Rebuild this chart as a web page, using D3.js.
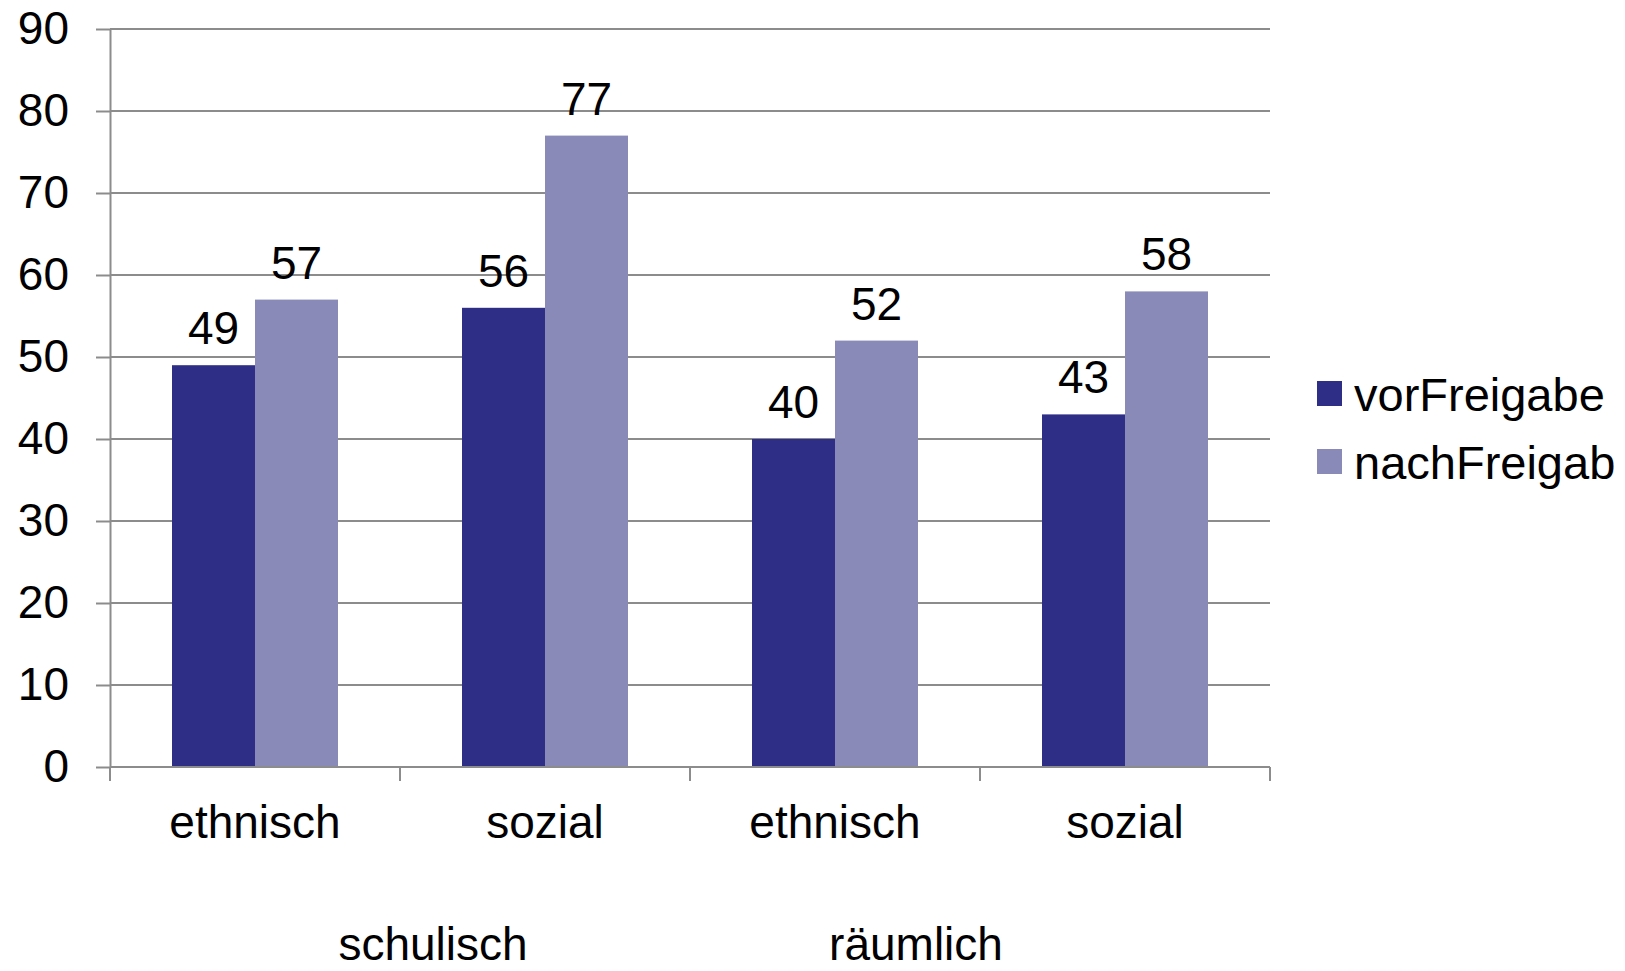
<!DOCTYPE html>
<html>
<head>
<meta charset="utf-8">
<script src="https://cdn.jsdelivr.net/npm/d3@7"></script>
<style>
  html, body { margin: 0; padding: 0; background: #fff; }
  svg { display: block; font-family: "Liberation Sans", Arial, sans-serif; }
</style>
</head>
<body>
<svg id="chart" width="1625" height="971"></svg>
<script>
// Subcategories along the x axis, grouped by kind of segregation
const categories = ["ethnisch", "sozial", "ethnisch", "sozial"];
const groups = ["schulisch", "räumlich"];
const seriesNames = ["vorFreigabe", "nachFreigab"];
const vorFreigabe = [49, 56, 40, 43];
const nachFreigabe = [57, 77, 52, 58];
const yTicks = [0, 10, 20, 30, 40, 50, 60, 70, 80, 90];

const colors = ["#2e2e87", "#8a8ab8"];
const gridColor = "#8c8c8c";
const fontSize = 46;

const svg = d3.select("#chart");
const plot = { left: 110, right: 1270, top: 29, bottom: 767 };

const y = d3.scaleLinear().domain([0, 90]).range([plot.bottom, plot.top]);
const x0 = d3.scaleBand().domain(d3.range(categories.length)).range([plot.left, plot.right]).padding(0);
const x1 = d3.scaleBand().domain(seriesNames).range([0, x0.bandwidth()]).paddingInner(0).paddingOuter(0.747);

const rows = categories.map((c, i) => ({
  i, cat: c,
  values: [
    { key: seriesNames[0], v: vorFreigabe[i] },
    { key: seriesNames[1], v: nachFreigabe[i] }
  ]
}));

// Horizontal gridlines
svg.append("g")
  .selectAll("line")
  .data(yTicks)
  .join("line")
  .attr("x1", plot.left).attr("x2", plot.right)
  .attr("y1", d => y(d)).attr("y2", d => y(d))
  .attr("stroke", gridColor).attr("stroke-width", 2);

// Y axis with outside ticks
const yAxis = svg.append("g")
  .attr("transform", `translate(${plot.left},0)`)
  .call(d3.axisLeft(y).tickValues(yTicks).tickSize(14).tickPadding(27).tickSizeOuter(0));
yAxis.select(".domain").attr("stroke", gridColor).attr("stroke-width", 2);
yAxis.selectAll(".tick line").attr("stroke", gridColor).attr("stroke-width", 2);
yAxis.selectAll(".tick text")
  .attr("fill", "#000").attr("font-size", fontSize)
  .attr("font-family", "Liberation Sans, Arial, sans-serif");

// Bars
const groupSel = svg.append("g")
  .selectAll("g")
  .data(rows)
  .join("g")
  .attr("transform", d => `translate(${x0(d.i)},0)`);

groupSel.selectAll("rect")
  .data(d => d.values)
  .join("rect")
  .attr("x", d => x1(d.key))
  .attr("width", x1.bandwidth())
  .attr("y", d => y(d.v))
  .attr("height", d => y(0) - y(d.v))
  .attr("fill", d => colors[seriesNames.indexOf(d.key)]);

// Value labels above bars
groupSel.selectAll("text")
  .data(d => d.values)
  .join("text")
  .attr("x", d => x1(d.key) + x1.bandwidth() / 2)
  .attr("y", d => y(d.v) - 21)
  .attr("text-anchor", "middle")
  .attr("font-size", fontSize)
  .attr("fill", "#000")
  .text(d => d3.format("d")(d.v));

// X axis line with boundary ticks
const xEdges = d3.range(categories.length + 1).map(i => plot.left + i * x0.step());
svg.append("line")
  .attr("x1", plot.left).attr("x2", plot.right)
  .attr("y1", plot.bottom).attr("y2", plot.bottom)
  .attr("stroke", gridColor).attr("stroke-width", 2);
svg.append("g")
  .selectAll("line")
  .data(xEdges)
  .join("line")
  .attr("x1", d => d).attr("x2", d => d)
  .attr("y1", plot.bottom).attr("y2", plot.bottom + 14)
  .attr("stroke", gridColor).attr("stroke-width", 2);

// Subcategory labels
svg.append("g")
  .selectAll("text")
  .data(rows)
  .join("text")
  .attr("x", d => x0(d.i) + x0.bandwidth() / 2)
  .attr("y", plot.bottom + 71)
  .attr("text-anchor", "middle")
  .attr("font-size", fontSize)
  .attr("fill", "#000")
  .text(d => d.cat);

// Group labels beneath
const groupOffsets = [323, 806];
svg.append("g")
  .selectAll("text")
  .data(groups)
  .join("text")
  .attr("x", (d, i) => plot.left + groupOffsets[i])
  .attr("y", 960)
  .attr("text-anchor", "middle")
  .attr("font-size", fontSize)
  .attr("fill", "#000")
  .text(d => d);

// Legend
const legend = svg.append("g").attr("transform", "translate(1317,381)");
const legendItems = legend.selectAll("g")
  .data(seriesNames)
  .join("g")
  .attr("transform", (d, i) => `translate(0,${i * 68})`);
legendItems.append("rect")
  .attr("width", 25).attr("height", 25)
  .attr("fill", (d, i) => colors[i]);
legendItems.append("text")
  .attr("x", 37).attr("y", 30)
  .attr("font-size", 47)
  .attr("fill", "#000")
  .text(d => d);
</script>
</body>
</html>
